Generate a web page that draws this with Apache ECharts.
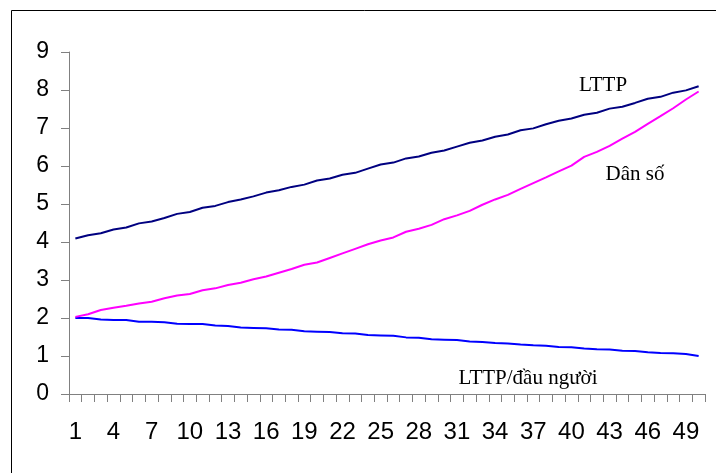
<!DOCTYPE html>
<html>
<head>
<meta charset="utf-8">
<script src="https://cdn.jsdelivr.net/npm/echarts@6/dist/echarts.min.js"></script>
<style>
  html, body { margin: 0; padding: 0; background: #fff; }
  #chart { width: 716px; height: 473px; }
</style>
</head>
<body>
<div id="chart"></div>
<script>
// Categories 1..50
const categories = [
  '1','2','3','4','5','6','7','8','9','10',
  '11','12','13','14','15','16','17','18','19','20',
  '21','22','23','24','25','26','27','28','29','30',
  '31','32','33','34','35','36','37','38','39','40',
  '41','42','43','44','45','46','47','48','49','50'
];

// LTTP (food output)
const lttp = [
  4.09, 4.18, 4.23, 4.33, 4.38, 4.49, 4.54, 4.63, 4.74, 4.79,
  4.90, 4.95, 5.05, 5.12, 5.20, 5.30, 5.36, 5.45, 5.51, 5.62,
  5.67, 5.77, 5.82, 5.93, 6.04, 6.09, 6.20, 6.25, 6.35, 6.41,
  6.51, 6.61, 6.67, 6.77, 6.83, 6.94, 6.99, 7.10, 7.19, 7.25,
  7.35, 7.40, 7.51, 7.56, 7.66, 7.77, 7.82, 7.93, 7.99, 8.10
];

// Dân số (population)
const danSo = [
  2.03, 2.10, 2.21, 2.27, 2.32, 2.38, 2.43, 2.52, 2.59, 2.63,
  2.73, 2.78, 2.87, 2.93, 3.02, 3.09, 3.19, 3.29, 3.40, 3.46,
  3.58, 3.70, 3.82, 3.94, 4.04, 4.12, 4.27, 4.35, 4.45, 4.60,
  4.70, 4.82, 4.98, 5.12, 5.24, 5.40, 5.55, 5.70, 5.86, 6.01,
  6.24, 6.37, 6.53, 6.72, 6.90, 7.11, 7.31, 7.52, 7.75, 7.96
];

// LTTP/đầu người (food per capita)
const lttpDauNguoi = [
  2.00, 2.00, 1.96, 1.95, 1.95, 1.90, 1.90, 1.89, 1.85, 1.84,
  1.84, 1.80, 1.79, 1.75, 1.74, 1.73, 1.70, 1.69, 1.65, 1.64,
  1.63, 1.60, 1.59, 1.55, 1.54, 1.53, 1.49, 1.48, 1.44, 1.43,
  1.42, 1.38, 1.37, 1.34, 1.33, 1.30, 1.28, 1.27, 1.24, 1.23,
  1.20, 1.18, 1.17, 1.14, 1.13, 1.10, 1.08, 1.07, 1.05, 1.00
];

const seriesNames = ['LTTP', 'Dân số', 'LTTP/đầu người'];
const seriesColors = ['#000080', '#FF00FF', '#0000FF'];

const chart = echarts.init(document.getElementById('chart'), null, { renderer: 'canvas' });

const axisGray = '#808080';
const numFont = '"Liberation Sans", Arial, sans-serif';
const serifFont = '"Liberation Serif", "Times New Roman", serif';

chart.setOption({
  animation: false,
  backgroundColor: '#fff',
  grid: { left: 69, right: 11, top: 52, bottom: 79, containLabel: false },
  xAxis: {
    type: 'category',
    data: categories,
    boundaryGap: true,
    axisLine: { show: true, lineStyle: { color: axisGray, width: 1 } },
    axisTick: { show: true, interval: 0, length: 8, lineStyle: { color: axisGray } },
    axisLabel: {
      interval: 2,
      margin: 26,
      color: '#000',
      fontSize: 24,
      fontFamily: numFont
    },
    splitLine: { show: false }
  },
  yAxis: {
    type: 'value',
    min: 0,
    max: 9,
    interval: 1,
    axisLine: { show: true, lineStyle: { color: axisGray, width: 1 } },
    axisTick: { show: true, length: 8, lineStyle: { color: axisGray } },
    axisLabel: {
      margin: 20,
      color: '#000',
      fontSize: 23,
      fontFamily: numFont
    },
    splitLine: { show: false }
  },
  series: [lttp, danSo, lttpDauNguoi].map((d, i) => ({
    name: seriesNames[i],
    type: 'line',
    data: d,
    symbol: 'none',
    smooth: false,
    lineStyle: { color: seriesColors[i], width: 2 },
    z: 3 - i
  })),
  graphic: [
    {
      type: 'rect',
      silent: true,
      shape: { x: 11.5, y: 10.5, width: 730, height: 490 },
      style: { fill: 'none', stroke: '#000', lineWidth: 1 }
    },
    {
      type: 'text', x: 603, y: 85,
      style: { text: 'LTTP', font: '21px ' + serifFont, fill: '#000', textAlign: 'center', textVerticalAlign: 'middle' }
    },
    {
      type: 'text', x: 635, y: 174,
      style: { text: 'Dân số', font: '21px ' + serifFont, fill: '#000', textAlign: 'center', textVerticalAlign: 'middle' }
    },
    {
      type: 'text', x: 528, y: 378,
      style: { text: 'LTTP/đầu người', font: '21px ' + serifFont, fill: '#000', textAlign: 'center', textVerticalAlign: 'middle' }
    }
  ]
});
</script>
</body>
</html>
